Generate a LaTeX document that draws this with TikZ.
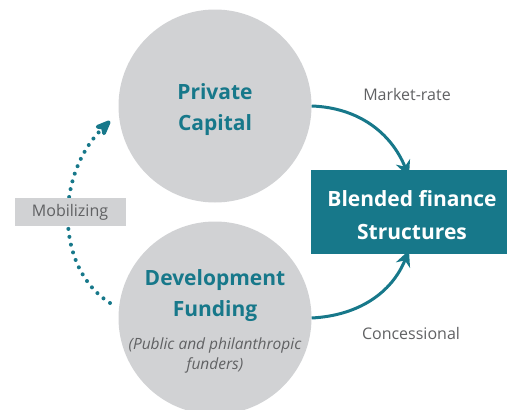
\documentclass[tikz,border=0pt]{standalone}
\usepackage{fontspec}
\setmainfont{Open Sans}
\usetikzlibrary{arrows.meta}
\definecolor{teal}{HTML}{17788A}
\definecolor{circgray}{HTML}{D1D2D4}
\definecolor{txtgray}{HTML}{606163}
\begin{document}
\begin{tikzpicture}[x=1pt, y=-1pt,
    circ/.style={circle, fill=circgray, minimum size=193pt, inner sep=0pt},
    title/.style={align=center, text=teal, font=\fontsize{21}{31}\selectfont\bfseries},
    tag/.style={text=txtgray, font=\fontsize{16}{20}\selectfont},
    flow/.style={teal, line width=3pt, -{Stealth[length=16pt, width=15pt, inset=5pt]}}]
    \clip (0,0) rectangle (507,410);

    \node[circ] (private) at (215,106) {};
    \node[title] (privtext) at (215,110) {Private\\Capital};
    \node[circ] (dev) at (215,318) {};
    \node[title] (devtext) at (215,296) {Development\\Funding};
    \node[tag, align=center, font=\fontsize{15.5}{20}\selectfont\itshape] (devsub) at (215,355) {(Public and philanthropic\\funders)};

    \node[fill=teal, minimum width=196pt, minimum height=84pt] (blend) at (409,212) {};
    \node[align=center, text=white, font=\fontsize{21}{33}\selectfont\bfseries] (blendtext) at (412,215) {Blended finance\\Structures};

    \node[tag] (market) at (407,94) {Market-rate};
    \node[tag] (conc) at (411,333) {Concessional};

    \coordinate (mobstart) at (110,303);
    \coordinate (mobend) at (110,121);

    \draw[flow] (private.east) to[out=-2, in=112] ([yshift=-7pt]blend.north);
    \draw[flow] (dev.east) to[out=3, in=-112] ([yshift=4pt]blend.south);

    \draw[teal, line width=4pt, line cap=round, dash pattern=on 0pt off 8pt,
          -{Stealth[length=21pt, width=17pt, inset=6pt, round=false]}]
        (mobstart) .. controls (55,268) and (55,175) .. (mobend);
    \node[fill=circgray, tag, minimum width=111pt, minimum height=28pt] (mob) at (70,212) {Mobilizing};
\end{tikzpicture}
\end{document}
